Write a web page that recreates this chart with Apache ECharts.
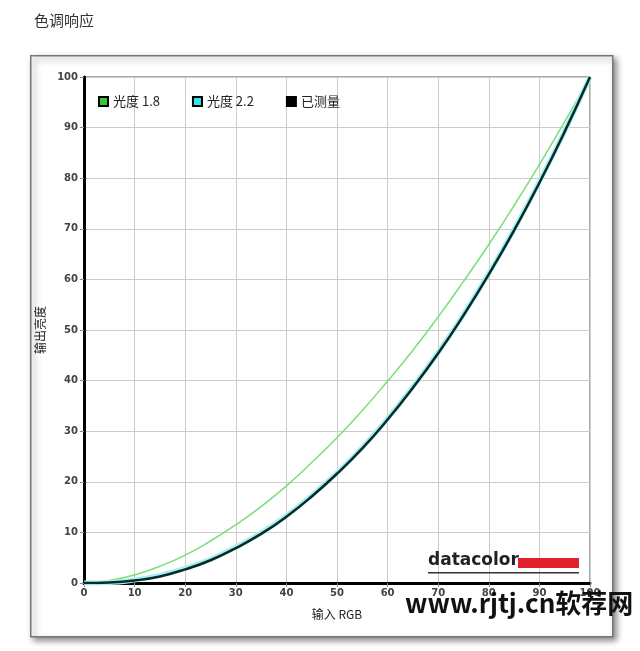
<!DOCTYPE html>
<html><head><meta charset="utf-8">
<script src="https://cdn.jsdelivr.net/npm/echarts@6/dist/echarts.min.js"></script>
<style>html,body{margin:0;padding:0;background:#fff;}#c{width:640px;height:651px;}</style>
</head><body><div id="c"></div>
<script>
const xValues = [0,5,10,15,20,25,30,35,40,45,50,55,60,65,70,75,80,85,90,95,100];
const gamma18 = [0,0.5,1.6,3.3,5.5,8.3,11.5,15.1,19.2,23.8,28.7,34.1,39.9,46.0,52.6,59.6,66.9,74.6,82.7,91.2,100];
const gamma22 = [0,0.1,0.6,1.5,2.9,4.7,7.1,9.9,13.3,17.3,21.8,26.8,32.5,38.8,45.6,53.1,61.2,69.9,79.3,89.3,100];
const measured = [0,0.1,0.5,1.3,2.7,4.5,6.9,9.7,13.1,17.1,21.6,26.6,32.3,38.6,45.4,52.9,61.0,69.7,79.1,89.2,100];
const seriesNames = ['光度 1.8','光度 2.2','已测量'];
const xTicks = [0,10,20,30,40,50,60,70,80,90,100];

const pairs = ys => xValues.map((x,i)=>[x, ys[i]]);
const chart = echarts.init(document.getElementById('c'));
const tickFont = {fontFamily:'DejaVu Sans', fontSize:10, color:'#444', fontWeight:'bold'};
chart.setOption({
  animation:false,
  backgroundColor:'#fff',
  title:{text:'色调响应', left:29, top:8, textStyle:{fontFamily:'Noto Sans CJK SC', fontSize:15, fontWeight:'normal', color:'#333'}},
  graphic:[
    {type:'rect', left:30, top:55, shape:{width:582, height:581}, z:-10,
     style:{fill:'#fff', stroke:'#777', lineWidth:1.5, shadowColor:'rgba(0,0,0,0.45)', shadowBlur:6, shadowOffsetX:3, shadowOffsetY:3}},
    {type:'text', left:428, top:552, z:50, style:{text:'datacolor', fill:'#222', font:'bold 17px "DejaVu Sans"'}},
    {type:'rect', left:518, top:558, z:50, shape:{width:61, height:10}, style:{fill:'#e0202c'}},
    {type:'rect', left:428, top:572, z:50, shape:{width:151, height:1.5}, style:{fill:'#333'}},
    {type:'text', left:405, top:590, z:60, style:{text:'www.rjtj.cn软荐网', fill:'#111', font:'bold 26px "Noto Sans CJK SC"'}}
  ],
  legend:{
    left:93, top:90, itemWidth:9, itemHeight:9, itemGap:32, icon:'rect',
    data: seriesNames.map(n=>({name:n})),
    textStyle:{fontFamily:'Noto Sans CJK SC', fontSize:13, color:'#222'}
  },
  grid:{left:84, right:50, top:77, bottom:68, show:true, borderColor:'#555', borderWidth:1},
  xAxis:{type:'value', min:0, max:100, interval:10,
    name:'输入 RGB', nameLocation:'middle', nameGap:25,
    nameTextStyle:{fontFamily:'Noto Sans CJK SC', fontSize:12, color:'#222'},
    axisLine:{lineStyle:{color:'#000', width:3}},
    axisTick:{show:true, length:4, lineStyle:{color:'#888'}},
    axisLabel:Object.assign({margin:5}, tickFont),
    splitLine:{show:true, lineStyle:{color:'#ccc', width:1}}},
  yAxis:{type:'value', min:0, max:100, interval:10,
    name:'输出亮度', nameLocation:'middle', nameGap:30, nameRotate:90,
    nameTextStyle:{fontFamily:'Noto Sans CJK SC', fontSize:12, color:'#222'},
    axisLine:{show:true, lineStyle:{color:'#000', width:3}},
    axisTick:{show:true, length:4, lineStyle:{color:'#888'}},
    axisLabel:Object.assign({margin:6}, tickFont),
    splitLine:{show:true, lineStyle:{color:'#ccc', width:1}}},
  series:[
    {name:seriesNames[0], type:'line', smooth:true, symbol:'none', data:pairs(gamma18), z:3,
     itemStyle:{color:'#33cc33', borderColor:'#000', borderWidth:1},
     lineStyle:{color:'#77e077', width:1.5}},
    {name:seriesNames[1], type:'line', smooth:true, symbol:'none', data:pairs(gamma22), z:4,
     itemStyle:{color:'#33e6e6', borderColor:'#000', borderWidth:1},
     lineStyle:{color:'#a8f0f0', width:5}},
    {name:seriesNames[2], type:'line', smooth:true, symbol:'none', data:pairs(measured), z:5,
     itemStyle:{color:'#000', borderColor:'#000', borderWidth:1},
     lineStyle:{color:'#0a2a2a', width:2.5}}
  ]
});
</script></body></html>
